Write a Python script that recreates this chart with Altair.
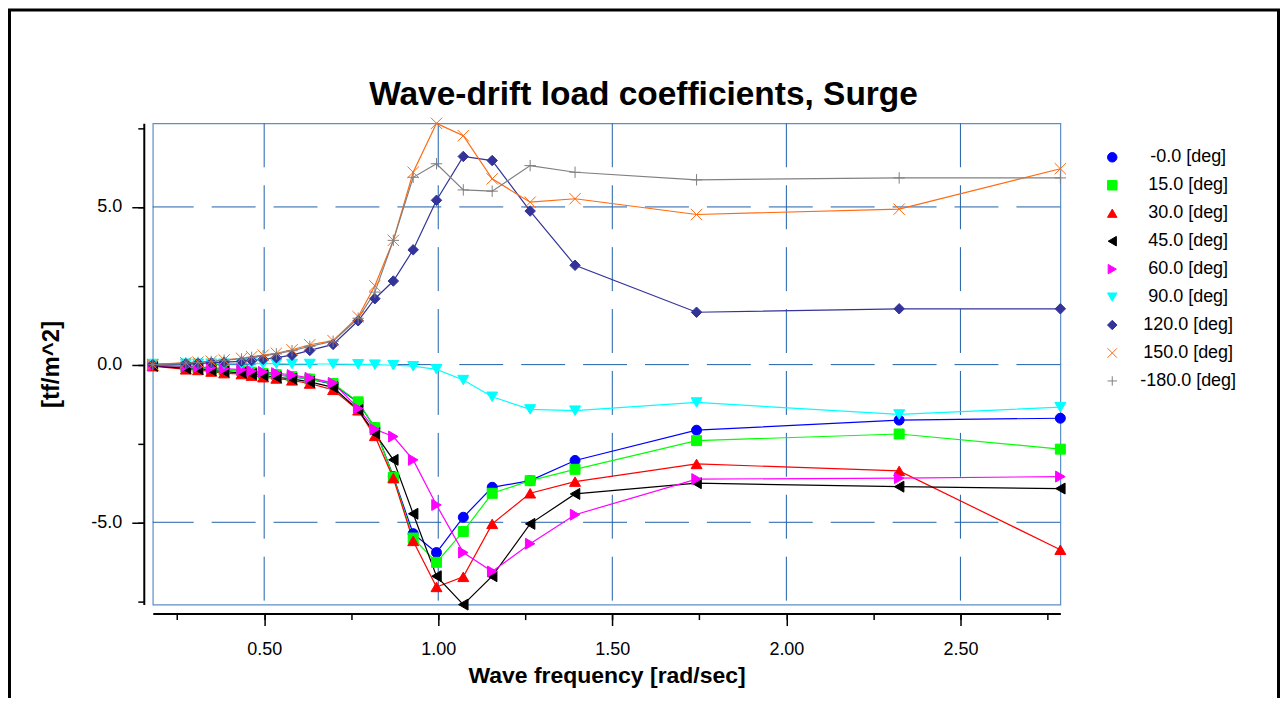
import altair as alt
import pandas as pd

# Wave frequency [rad/sec]
freq = [0.18, 0.275, 0.31, 0.348, 0.385, 0.435, 0.464, 0.497, 0.535, 0.58, 0.631, 0.698,
        0.77, 0.818, 0.871, 0.928, 0.995, 1.072, 1.155, 1.264, 1.393, 1.742, 2.324, 2.787]

s_m000 = [-0.02, -0.08, -0.10, -0.13, -0.17, -0.20, -0.24, -0.28, -0.32, -0.38, -0.46, -0.62,
          -1.20, -2.00, -3.55, -5.36, -5.96, -4.84, -3.89, -3.68, -3.04, -2.08, -1.76, -1.70]
s_015 = [-0.02, -0.08, -0.10, -0.13, -0.17, -0.20, -0.24, -0.28, -0.32, -0.38, -0.46, -0.60,
         -1.18, -2.00, -3.57, -5.50, -6.27, -5.29, -4.08, -3.68, -3.32, -2.41, -2.20, -2.68]
s_030 = [-0.05, -0.15, -0.17, -0.22, -0.27, -0.30, -0.35, -0.40, -0.44, -0.50, -0.60, -0.80,
         -1.45, -2.26, -3.60, -5.59, -7.05, -6.73, -5.05, -4.08, -3.71, -3.15, -3.37, -5.87]
s_045 = [-0.04, -0.12, -0.14, -0.18, -0.22, -0.26, -0.30, -0.34, -0.40, -0.45, -0.55, -0.72,
         -1.44, -2.18, -3.02, -4.73, -6.71, -7.61, -6.71, -5.05, -4.10, -3.76, -3.87, -3.93]
s_060 = [-0.03, -0.05, -0.07, -0.10, -0.13, -0.16, -0.20, -0.23, -0.27, -0.33, -0.42, -0.58,
         -1.39, -2.05, -2.28, -3.02, -4.45, -5.96, -6.56, -5.68, -4.76, -3.63, -3.60, -3.55]
s_090 = [0.02, 0.03, 0.03, 0.03, 0.03, 0.03, 0.03, 0.03, 0.03, 0.02, 0.02, 0.02,
         0.01, 0.00, -0.02, -0.05, -0.15, -0.49, -1.02, -1.42, -1.46, -1.20, -1.58, -1.35]
s_120 = [0.00, 0.03, 0.04, 0.06, 0.08, 0.10, 0.13, 0.17, 0.22, 0.30, 0.45, 0.64,
         1.39, 2.09, 2.65, 3.64, 5.21, 6.60, 6.47, 4.87, 3.15, 1.66, 1.77, 1.77]
s_150 = [0.00, 0.06, 0.08, 0.11, 0.15, 0.20, 0.25, 0.30, 0.36, 0.47, 0.63, 0.76,
         1.52, 2.50, 3.94, 6.10, 7.65, 7.26, 5.89, 5.15, 5.26, 4.76, 4.93, 6.21]
s_m180 = [0.00, 0.05, 0.07, 0.10, 0.14, 0.18, 0.23, 0.28, 0.34, 0.44, 0.58, 0.74,
          1.47, 2.30, 3.94, 5.94, 6.37, 5.54, 5.50, 6.31, 6.10, 5.86, 5.92, 5.92]

series_labels = ["-0.0 [deg]", "15.0 [deg]", "30.0 [deg]", "45.0 [deg]", "60.0 [deg]",
                 "90.0 [deg]", "120.0 [deg]", "150.0 [deg]", "-180.0 [deg]"]
series_values = [s_m000, s_015, s_030, s_045, s_060, s_090, s_120, s_150, s_m180]
series_colors = ["#0000ff", "#00ff00", "#ff0000", "#000000", "#ff00ff",
                 "#00ffff", "#333399", "#ff6a10", "#808080"]
series_shapes = ["circle", "square", "triangle-up", "triangle-left", "triangle-right",
                 "triangle-down", "diamond", "M-1,-1L1,1M-1,1L1,-1", "M-1,0L1,0M0,-1L0,1"]
series_sizes = [100, 100, 120, 120, 120, 120, 110, 130, 130]

x_major = [0.5, 1.0, 1.5, 2.0, 2.5]
x_all = [0.25, 0.5, 0.75, 1.0, 1.25, 1.5, 1.75, 2.0, 2.25, 2.5, 2.75]
y_major = [-5.0, 0.0, 5.0]
y_all = [-7.5, -5.0, -2.5, 0.0, 2.5, 5.0, 7.5]

rows = []
for i, (lab, vals) in enumerate(zip(series_labels, series_values)):
    for f, v in zip(freq, vals):
        rows.append({"freq": f, "value": v, "series": lab, "lc": series_colors[i],
                     "msize": series_sizes[i], "k": i})
df = pd.DataFrame(rows)

ymin = min(min(v) for v in series_values)
ymax = max(max(v) for v in series_values)

FONT = "Liberation Sans"
GRID = "#1f5fa8"

xs = alt.Scale(domain=[freq[0], freq[-1]], nice=False, zero=False)
ys = alt.Scale(domain=[ymin, ymax], nice=False, zero=False)
cscale = alt.Scale(domain=series_labels, range=series_colors)
shscale = alt.Scale(domain=series_labels, range=series_shapes)

x_axis_major = alt.Axis(orient="bottom", values=x_major, format=".2f", tickSize=12,
                        tickWidth=1.5, tickColor="black", domainColor="black", domainWidth=2,
                        offset=9, grid=False, labelFont=FONT, labelFontSize=18,
                        labelColor="black", labelPadding=15,
                        title="Wave frequency [rad/sec]", titleFont=FONT, titleFontSize=23,
                        titleFontWeight="bold", titleColor="black", titlePadding=6)
x_axis_minor = alt.Axis(orient="bottom", values=x_all, tickSize=6, tickWidth=1.5,
                        tickColor="black", domain=False, labels=False, offset=9,
                        grid=False, title=None)
y_axis_major = alt.Axis(orient="left", values=y_major, tickSize=12, tickWidth=1.5,
                        tickColor="black", domainColor="black", domainWidth=2, offset=9,
                        grid=False, labelFont=FONT, labelFontSize=18, labelColor="black",
                        labelPadding=10,
                        labelExpr="(datum.value < 0 ? '-' : '') + format(abs(datum.value), '.1f')",
                        title="[tf/m^2]", titleFont=FONT, titleFontSize=24,
                        titleFontWeight="bold", titleColor="black", titlePadding=27)
y_axis_minor = alt.Axis(orient="left", values=y_all, tickSize=6, tickWidth=1.5,
                        tickColor="black", domain=False, labels=False, offset=9,
                        grid=False, title=None)

vgrid = alt.Chart(pd.DataFrame({"g": x_major})).mark_rule(
    color=GRID, strokeDash=[44, 18], strokeWidth=1
).encode(x=alt.X("g:Q", scale=xs, axis=None))

hgrid = alt.Chart(pd.DataFrame({"g": y_major})).mark_rule(
    color=GRID, strokeDash=[44, 18], strokeWidth=1
).encode(y=alt.Y("g:Q", scale=ys, axis=None))

lines = alt.Chart(df).mark_line(strokeWidth=1.2).encode(
    x=alt.X("freq:Q", scale=xs, axis=x_axis_major),
    y=alt.Y("value:Q", scale=ys, axis=y_axis_major),
    color=alt.Color("lc:N", scale=None),
    detail="series:N",
)

leg = alt.Legend(title=None, orient="none", legendX=952, legendY=25, padding=0,
                 labelFont=FONT, labelFontSize=18, labelColor="black", labelAlign="center",
                 labelOffset=67, rowPadding=10, symbolSize=90, symbolStrokeWidth=1,
                 labelLimit=300)

points = alt.Chart(df).mark_point(filled=True, opacity=1, strokeWidth=1).encode(
    x=alt.X("freq:Q", scale=xs, axis=x_axis_minor),
    y=alt.Y("value:Q", scale=ys, axis=y_axis_minor),
    fill=alt.Fill("series:N", scale=cscale, legend=leg, sort=series_labels),
    stroke=alt.Stroke("series:N", scale=cscale, legend=leg, sort=series_labels),
    shape=alt.Shape("series:N", scale=shscale, legend=leg, sort=series_labels),
    size=alt.Size("msize:Q", scale=None),
    order=alt.Order("k:Q"),
)

frame = alt.Chart(pd.DataFrame({"k": [1]})).mark_rect(
    fillOpacity=0, stroke="black", strokeWidth=3
).encode(x=alt.value(-143.5), x2=alt.value(1127.5), y=alt.value(-113.5), y2=alt.value(900))

chart = alt.layer(vgrid, hgrid, lines, points, frame).resolve_axis(
    x="independent", y="independent"
).properties(
    width=909, height=482,
    padding={"left": 145, "top": 115, "right": 220, "bottom": 93},
    autosize=alt.AutoSizeParams(type="none"),
    background="white",
    title=alt.TitleParams("Wave-drift load coefficients, Surge", font=FONT, fontSize=33.5,
                          fontWeight="bold", color="black", anchor="middle", frame="group",
                          dx=37, baseline="bottom", offset=-137),
).configure_view(stroke="#5b8fc7", strokeWidth=1.2)

chart.save("out.html", embed_options={"renderer": "svg", "actions": False})
